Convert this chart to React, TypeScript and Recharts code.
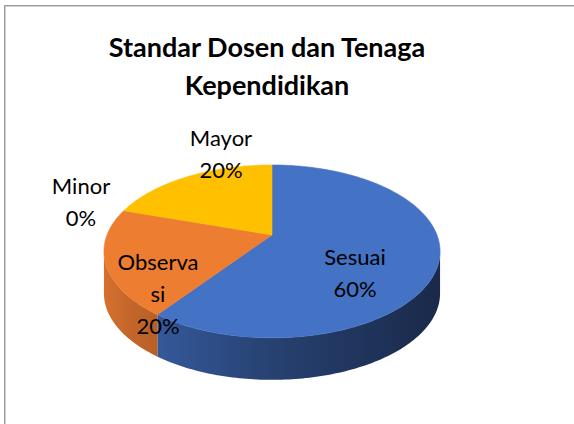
import React from "react";
import { PieChart, Pie } from "recharts";

// chart data
const categories = ["Sesuai", "Observasi", "Minor", "Mayor"];
const values = [60, 20, 0, 20];
const topColors = ["#4472C4", "#ED7D31", "#A5A5A5", "#FFC000"];
const sideGradients = ["sideBlue", "sideOrange", "sideGray", "sideYellow"];

const data = categories.map((name, i) => ({
  name,
  value: values[i],
  color: topColors[i],
  side: sideGradients[i],
}));

// 3D look: tilted disc with a little perspective
const RY_RATIO = 0.505;
const PERSP = 0.19;
const DEPTH = 42;
const RAD = Math.PI / 180;

// label placement (offsets from the pie centre, in px)
const labelPos: Record<string, { dx: number; dy: number }> = {
  Sesuai: { dx: 83, dy: 37 },
  Observasi: { dx: -114, dy: 58 },
  Minor: { dx: -191, dy: -34 },
  Mayor: { dx: -51, dy: -82 },
};
const labelBreak: Record<string, number> = { Observasi: 7 };

// project a rim point of the disc (angle in degrees, recharts convention)
const proj = (cx: number, cy: number, r: number, a: number) => {
  const X = Math.cos(a * RAD);
  const Z = Math.sin(a * RAD);
  const w = 1 + PERSP * Z;
  return { x: cx + (r * X) / w, y: cy - (r * RY_RATIO * Z) / w };
};

const rim = (cx: number, cy: number, r: number, a: number, b: number, dy = 0) => {
  const pts: string[] = [];
  const n = Math.max(2, Math.ceil(Math.abs(b - a)));
  for (let i = 0; i <= n; i++) {
    const p = proj(cx, cy, r, a + ((b - a) * i) / n);
    pts.push(`${p.x.toFixed(2)},${(p.y + dy).toFixed(2)}`);
  }
  return pts;
};

const TopShape = (props: any) => {
  const { cx, cy, outerRadius, startAngle, endAngle, payload } = props;
  if (Math.abs(endAngle - startAngle) <= 0) return <g />;
  const pts = rim(cx, cy, outerRadius, startAngle, endAngle);
  const d = `M${cx},${cy} L${pts.join(" L")} Z`;
  return <path d={d} fill={payload.color} stroke={payload.color} strokeWidth={0.6} />;
};

const SideShape = (props: any) => {
  const { cx, cy, outerRadius, startAngle, endAngle, payload } = props;
  const lo = Math.min(startAngle, endAngle);
  const hi = Math.max(startAngle, endAngle);
  const edge = Math.asin(PERSP) / RAD;
  const parts: string[] = [];
  // visible front wall lies between the silhouette angles
  for (let k = -2; k <= 1; k++) {
    const a = Math.max(lo, -180 + edge + 360 * k);
    const b = Math.min(hi, -edge + 360 * k);
    if (b - a <= 0) continue;
    const top = rim(cx, cy, outerRadius, a, b);
    const bottom = rim(cx, cy, outerRadius, b, a, DEPTH);
    parts.push(`M${top.join(" L")} L${bottom.join(" L")} Z`);
  }
  if (!parts.length) return <g />;
  return <path d={parts.join(" ")} fill={`url(#${payload.side})`} stroke="none" />;
};

const renderLabel = (props: any) => {
  const { cx, cy, name, percent } = props;
  const pos = labelPos[name] || { dx: 0, dy: 0 };
  const cut = labelBreak[name];
  const lines = cut ? [name.slice(0, cut), name.slice(cut)] : [name];
  lines.push(`${Math.round(percent * 100)}%`);
  const lineH = 32;
  const x = cx + pos.dx;
  const y0 = cy + pos.dy - ((lines.length - 1) * lineH) / 2;
  return (
    <text
      key={name}
      x={x}
      y={y0}
      textAnchor="middle"
      dominantBaseline="central"
      fontFamily="Lato, sans-serif"
      fontSize={22}
      fill="#000"
    >
      {lines.map((l, i) => (
        <tspan key={i} x={x} y={y0 + i * lineH} dominantBaseline="central">
          {l}
        </tspan>
      ))}
    </text>
  );
};

export default function App() {
  const pieProps = {
    data,
    dataKey: "value",
    nameKey: "name",
    cx: 267,
    cy: 230,
    outerRadius: 165,
    startAngle: 90,
    endAngle: -270,
    isAnimationActive: false,
    stroke: "none",
  };

  return (
    <div
      style={{
        position: "absolute",
        left: 0,
        top: 0,
        width: 574,
        height: 424,
        overflow: "hidden",
        background: "#fff",
      }}
    >
      {/* chart frame */}
      <div
        style={{
          position: "absolute",
          left: 4,
          top: 5,
          width: 600,
          height: 450,
          border: "1px solid #9a9a9a",
          boxShadow: "1px 1px 0 #d0d0d0 inset",
        }}
      />
      <div
        style={{
          position: "absolute",
          left: 0,
          top: 28,
          width: 534,
          textAlign: "center",
          fontFamily: "Lato, sans-serif",
          fontWeight: 700,
          fontSize: 27,
          lineHeight: "38px",
          color: "#000",
        }}
      >
        Standar Dosen dan Tenaga
        <br />
        Kependidikan
      </div>
      <div style={{ position: "absolute", left: 0, top: 0 }}>
        <PieChart width={574} height={424}>
          <defs>
            <linearGradient id="sideBlue" gradientUnits="userSpaceOnUse" x1={150} y1={0} x2={435} y2={0}>
              <stop offset="0%" stopColor="#355A9C" />
              <stop offset="45%" stopColor="#26406F" />
              <stop offset="100%" stopColor="#1B2A4B" />
            </linearGradient>
            <linearGradient id="sideOrange" gradientUnits="userSpaceOnUse" x1={99} y1={0} x2={160} y2={0}>
              <stop offset="0%" stopColor="#D8732F" />
              <stop offset="50%" stopColor="#C4662A" />
              <stop offset="100%" stopColor="#B85F26" />
            </linearGradient>
            <linearGradient id="sideGray" x1="0" y1="0" x2="1" y2="0">
              <stop offset="0%" stopColor="#888" />
              <stop offset="100%" stopColor="#666" />
            </linearGradient>
            <linearGradient id="sideYellow" x1="0" y1="0" x2="1" y2="0">
              <stop offset="0%" stopColor="#D9A300" />
              <stop offset="100%" stopColor="#B88A00" />
            </linearGradient>
          </defs>
          <Pie {...pieProps} shape={SideShape} activeShape={SideShape} inactiveShape={SideShape} />
          <Pie {...pieProps} shape={TopShape} activeShape={TopShape} inactiveShape={TopShape} />
          <Pie
            {...pieProps}
            fill="none"
            shape={() => <g />}
            activeShape={() => <g />}
            inactiveShape={() => <g />}
            label={renderLabel}
            labelLine={false}
          />
        </PieChart>
      </div>
    </div>
  );
}
